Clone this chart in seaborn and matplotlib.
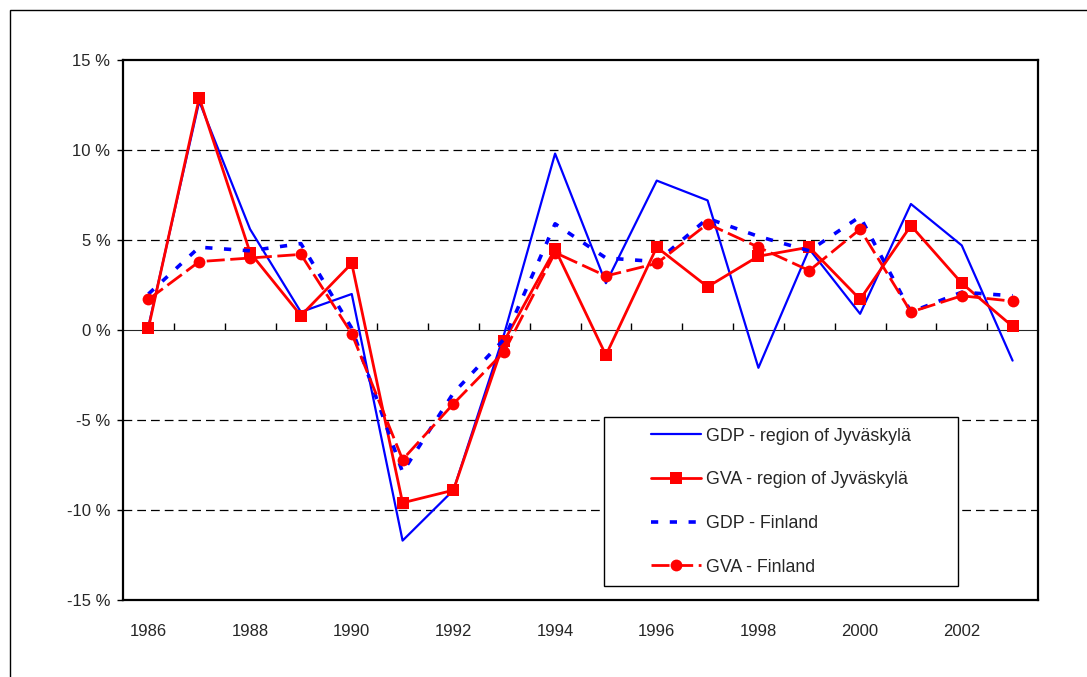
import matplotlib
matplotlib.use("Agg")
import matplotlib.pyplot as plt
import matplotlib.patches as mpatches
import seaborn as sns
import pandas as pd

# ==========================================================
# DATOS (% de crecimiento anual)
# ==========================================================
years = list(range(1986, 2004))

gdp_region = [0.2, 12.7, 5.6, 1.0, 2.0, -11.7, -8.9, -0.2, 9.8, 2.6,
              8.3, 7.2, -2.1, 4.5, 0.9, 7.0, 4.7, -1.7]
gva_region = [0.1, 12.9, 4.3, 0.8, 3.7, -9.6, -8.9, -0.6, 4.5, -1.4,
              4.6, 2.4, 4.1, 4.6, 1.7, 5.8, 2.6, 0.2]
gdp_finland = [2.0, 4.6, 4.4, 4.8, 0.1, -7.9, -3.5, -0.5, 5.9, 4.0,
               3.8, 6.2, 5.2, 4.4, 6.3, 1.0, 2.1, 1.9]
gva_finland = [1.7, 3.8, 4.0, 4.2, -0.2, -7.2, -4.1, -1.2, 4.3, 3.0,
               3.7, 5.9, 4.6, 3.3, 5.6, 1.0, 1.9, 1.6]

labels = ["GDP - region of Jyväskylä", "GVA - region of Jyväskylä",
          "GDP - Finland", "GVA - Finland"]

yticks = [-15, -10, -5, 0, 5, 10, 15]
ytick_labels = [f"{v} %" for v in yticks]
xtick_years = list(range(1986, 2003, 2))

df = pd.DataFrame({
    "year": years * 4,
    "value": gdp_region + gva_region + gdp_finland + gva_finland,
    "series": sum([[l] * len(years) for l in labels], []),
})

# ==========================================================
# ESTILO
# ==========================================================
sns.set_style("white")
plt.rcParams["font.family"] = ["Liberation Sans", "DejaVu Sans"]

fig = plt.figure(figsize=(10.87, 6.77), dpi=100)
ax = fig.add_axes([123 / 1087, 77 / 677, 915 / 1087, 540 / 677])

# marco exterior (solo arriba e izquierda visibles)
fig.add_artist(mpatches.Rectangle((10 / 1087, -0.2), 1.2, 1.2 - 10 / 677,
                                  transform=fig.transFigure, fill=False,
                                  edgecolor="black", lw=1.0))

styles = {
    labels[0]: dict(color="#0000FF", lw=1.6, linestyle="-"),
    labels[1]: dict(color="#FF0000", lw=2.0, linestyle="-", marker="s",
                    markersize=8, markeredgewidth=0),
    labels[2]: dict(color="#0000FF", lw=2.6, linestyle=(0, (2.0, 3.2))),
    labels[3]: dict(color="#FF0000", lw=2.0, linestyle=(0, (6.5, 2.0)),
                    marker="o", markersize=8.5, markeredgewidth=0),
}

for lab in labels:
    sub = df[df["series"] == lab]
    sns.lineplot(data=sub, x="year", y="value", ax=ax, label=lab,
                 legend=False, zorder=3, **styles[lab])

# ==========================================================
# EJES
# ==========================================================
ax.set_xlim(1985.5, 2003.5)
ax.set_ylim(-15, 15)
ax.set_xlabel("")
ax.set_ylabel("")

ax.set_yticks(yticks)
ax.set_yticklabels(ytick_labels)
ax.set_xticks(xtick_years)
ax.set_xticklabels([str(y) for y in xtick_years])

ax.tick_params(axis="y", direction="out", length=4, width=1, pad=5,
               labelsize=12, left=True, color="black")
ax.tick_params(axis="x", length=0, pad=17, labelsize=12)

for s in ax.spines.values():
    s.set_color("black")
    s.set_linewidth(1.6)

# líneas de cuadrícula discontinuas
for v in [-10, -5, 5, 10]:
    ax.axhline(v, color="black", lw=0.9, linestyle=(0, (7, 4)), zorder=1)

# eje de categorías en 0 %
zero_axis = ax.secondary_xaxis(0.5)
zero_axis.set_xticks([y + 0.5 for y in years[:-1]])
zero_axis.set_xticklabels([])
zero_axis.tick_params(direction="out", length=5, width=1, color="black")
zero_axis.spines["bottom"].set_linewidth(1.3)
zero_axis.spines["bottom"].set_color("black")

# ==========================================================
# LEYENDA
# ==========================================================
ax.add_patch(mpatches.Rectangle((0.5257, 0.0259), 0.3869, 0.313,
                                transform=ax.transAxes, facecolor="white",
                                edgecolor="black", lw=1.0, zorder=4))
handles, hl = ax.get_legend_handles_labels()
leg = ax.legend(handles, hl, loc="center", bbox_to_anchor=(0.7191, 0.1824),
                frameon=False, fontsize=12.8, handlelength=2.8,
                handletextpad=0.3, labelspacing=1.5)
leg.set_zorder(5)

plt.savefig("out.png", dpi=100, facecolor="white")
plt.close()
